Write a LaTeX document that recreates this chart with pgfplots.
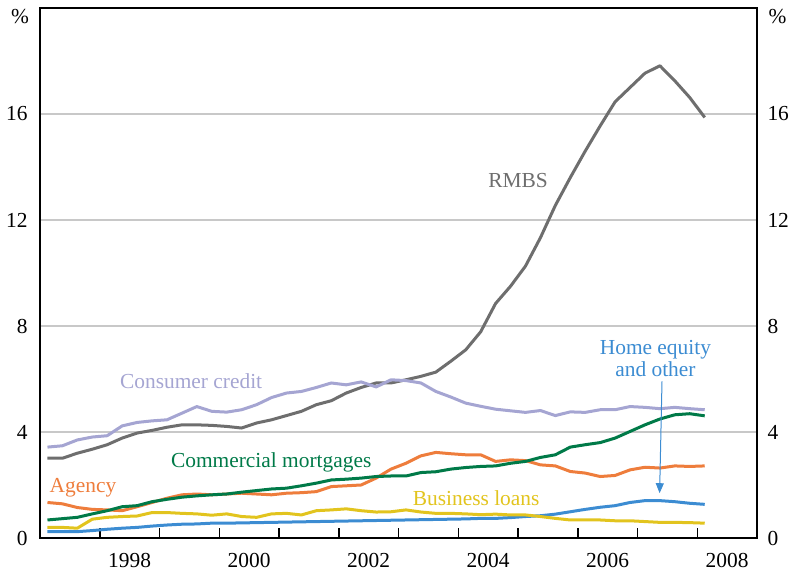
\documentclass[border=0pt]{standalone}
\usepackage{fontspec}
\setmainfont{Liberation Serif}
\usepackage{pgfplots}
\pgfplotsset{compat=1.18}
\usepackage{pgfplotstable}
\usetikzlibrary{arrows.meta}

\definecolor{rmbs}{RGB}{110,110,110}
\definecolor{cons}{RGB}{165,165,210}
\definecolor{comm}{RGB}{0,122,72}
\definecolor{agency}{RGB}{238,125,60}
\definecolor{bus}{RGB}{226,196,30}
\definecolor{home}{RGB}{60,140,210}
\definecolor{gridgray}{RGB}{200,200,200}

% quarterly, per cent of total
\pgfplotstableread{
x        rmbs  cons  comm  agency bus  home
1997.125 3.01  3.43  0.68  1.34  0.40  0.24
1997.375 3.01  3.48  0.73  1.29  0.40  0.24
1997.625 3.20  3.70  0.78  1.15  0.37  0.24
1997.875 3.35  3.81  0.91  1.08  0.71  0.28
1998.125 3.52  3.86  1.03  1.06  0.78  0.33
1998.375 3.77  4.23  1.18  1.03  0.81  0.37
1998.625 3.96  4.36  1.22  1.18  0.83  0.40
1998.875 4.06  4.42  1.37  1.34  0.96  0.45
1999.125 4.18  4.46  1.46  1.50  0.96  0.49
1999.375 4.27  4.71  1.54  1.63  0.93  0.52
1999.625 4.27  4.96  1.59  1.66  0.91  0.53
1999.875 4.25  4.78  1.63  1.63  0.86  0.56
2000.125 4.21  4.75  1.66  1.66  0.91  0.56
2000.375 4.15  4.84  1.73  1.69  0.81  0.57
2000.625 4.34  5.03  1.79  1.66  0.78  0.58
2000.875 4.46  5.30  1.85  1.63  0.91  0.59
2001.125 4.62  5.47  1.88  1.69  0.93  0.60
2001.375 4.78  5.53  1.97  1.71  0.87  0.61
2001.625 5.03  5.68  2.07  1.75  1.03  0.62
2001.875 5.18  5.85  2.19  1.94  1.06  0.63
2002.125 5.47  5.78  2.22  1.97  1.10  0.64
2002.375 5.68  5.89  2.26  2.00  1.03  0.65
2002.625 5.85  5.70  2.32  2.26  0.98  0.66
2002.875 5.85  5.97  2.34  2.60  0.99  0.67
2003.125 5.97  5.94  2.34  2.82  1.06  0.68
2003.375 6.10  5.85  2.47  3.10  0.98  0.69
2003.625 6.26  5.53  2.50  3.23  0.93  0.70
2003.875 6.67  5.32  2.60  3.18  0.93  0.71
2004.125 7.10  5.09  2.66  3.14  0.91  0.72
2004.375 7.78  4.97  2.70  3.14  0.88  0.74
2004.625 8.85  4.86  2.72  2.89  0.90  0.74
2004.875 9.50  4.80  2.82  2.95  0.87  0.77
2005.125 10.26 4.74  2.89  2.92  0.87  0.81
2005.375 11.33 4.81  3.04  2.76  0.81  0.84
2005.625 12.55 4.62  3.14  2.72  0.74  0.90
2005.875 13.60 4.76  3.43  2.51  0.68  0.99
2006.125 14.60 4.74  3.52  2.45  0.68  1.08
2006.375 15.55 4.84  3.60  2.32  0.68  1.16
2006.625 16.46 4.84  3.77  2.36  0.65  1.22
2006.875 17.00 4.96  4.02  2.57  0.65  1.34
2007.125 17.54 4.93  4.27  2.67  0.62  1.41
2007.375 17.82 4.88  4.49  2.64  0.59  1.41
2007.625 17.25 4.93  4.65  2.72  0.59  1.37
2007.875 16.62 4.88  4.69  2.70  0.58  1.31
2008.125 15.87 4.84  4.61  2.72  0.56  1.27
}\securities

\begin{document}
\fontsize{10.7bp}{12.8bp}\selectfont
\begin{tikzpicture}
\begin{axis}[
  scale only axis, width=358.5bp, height=265bp,
  xmin=1997, xmax=2009, ymin=0, ymax=20,
  axis line style={line width=0.75bp},
  xtick={1998.5,2000.5,...,2008.5},
  xticklabels={1998,2000,2002,2004,2006,2008},
  xticklabel style={yshift=-4bp},
  ytick={0,4,...,16},
  tick style={draw=none},
  yticklabel style={xshift=-2.5bp},
  ymajorgrids, grid style={gridgray, line width=0.6bp},
  /pgf/number format/assume math mode=true,
  every axis plot/.append style={line width=1.5bp, line join=round},
]
% year boundary ticks along the bottom (5bp tall)
\addplot[black, line width=0.75bp, ycomb, mark=none] coordinates {
  (1998,0.38) (1999,0.38) (2000,0.38) (2001,0.38) (2002,0.38) (2003,0.38)
  (2004,0.38) (2005,0.38) (2006,0.38) (2007,0.38) (2008,0.38)};
\addplot[rmbs] table[x=x, y=rmbs] {\securities};
\addplot[cons] table[x=x, y=cons] {\securities};
\addplot[home] table[x=x, y=home] {\securities};
\addplot[bus] table[x=x, y=bus] {\securities};
\addplot[agency] table[x=x, y=agency] {\securities};
\addplot[comm] table[x=x, y=comm] {\securities};

\coordinate (bl) at (rel axis cs:0,0);
\coordinate (tr) at (rel axis cs:1,1);

\node[text=rmbs] at (axis cs:2005.0,13.5) {RMBS};
\node[text=cons] at (axis cs:1999.53,5.9) {Consumer credit};
\node[text=comm] at (axis cs:2000.87,2.84) {Commercial mortgages};
\node[text=agency] at (axis cs:1997.72,1.89) {Agency};
\node[text=bus] at (axis cs:2004.3,1.51) {Business loans};
\node[text=home, align=center, font=\fontsize{10.7bp}{11bp}\selectfont]
  at (axis cs:2007.3,6.77) {Home equity\\and other};
\draw[home, line width=0.5bp, -{Triangle[length=5bp, width=4bp]}]
  (axis cs:2007.41,5.91) -- (axis cs:2007.37,1.69);
\end{axis}
% tick labels on the right
\begin{axis}[
  scale only axis, width=358.5bp, height=265bp,
  xmin=1997, xmax=2009, ymin=0, ymax=20,
  hide x axis, axis y line*=right,
  y axis line style={draw=none},
  ytick={0,4,...,16}, ytick style={draw=none},
  yticklabel style={xshift=1.5bp},
  /pgf/number format/assume math mode=true,
]
\addplot[draw=none] coordinates {(1997,0)};
\end{axis}
\node at ([shift={(-10bp,-4.5bp)}]bl |- tr) {\%};
\node at ([shift={(10.25bp,-4.5bp)}]tr) {\%};
\pgfresetboundingbox
\path[use as bounding box] ([shift={(-20bp,-17bp)}]bl) rectangle ([shift={(17bp,4bp)}]tr);
\end{tikzpicture}
\end{document}
